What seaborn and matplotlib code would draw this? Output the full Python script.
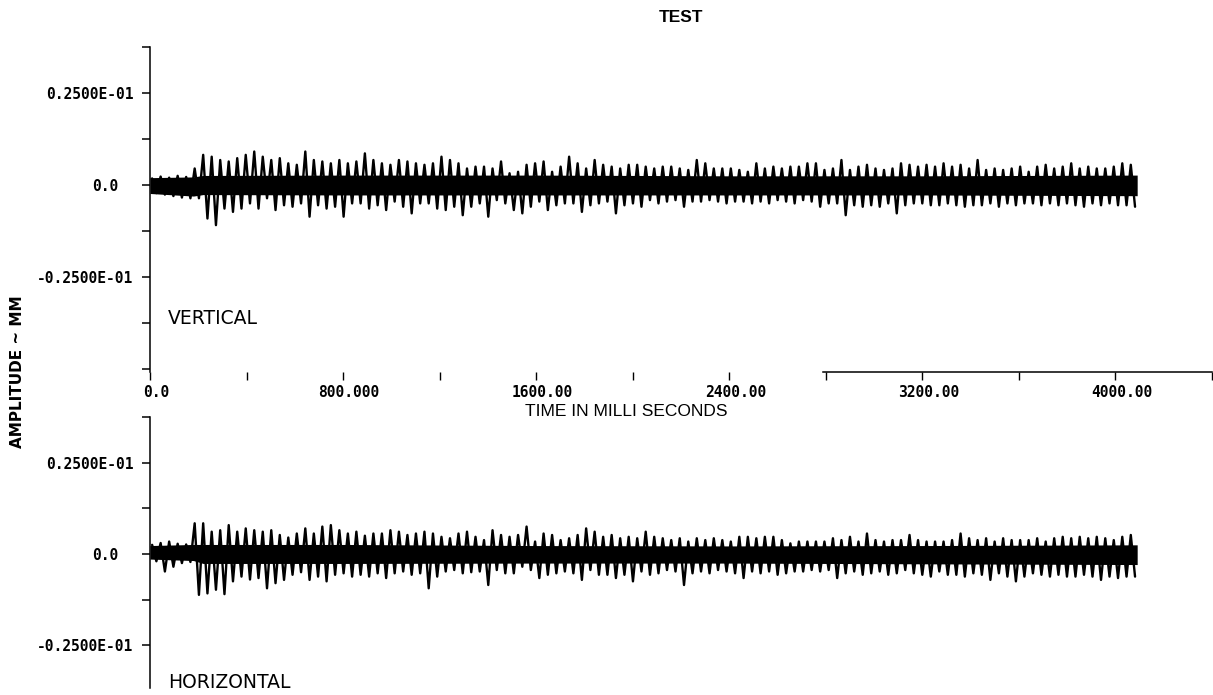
import numpy as np
import pandas as pd
import matplotlib
matplotlib.use("Agg")
import matplotlib.pyplot as plt
import matplotlib.transforms as mtransforms
from matplotlib.ticker import FixedLocator, FixedFormatter
import seaborn as sns

# ---------------- data (amplitudes in micrometres = 1e-3 mm) ----------------
record_ms = 4090.0  # length of the digitised record

# one peak and one trough per oscillation cycle
vert_peaks_um = [1.8, 2.3, 2.0, 2.5, 2.2, 4.5,
                 8.2, 7.7, 6.8, 6.4, 7.3, 8.2, 9.1, 7.7, 6.8, 7.3, 5.9, 5.5, 9.1, 6.8, 6.4,
                 5.9, 6.8, 5.9, 6.4, 8.6, 6.8, 5.9, 5.5, 6.8, 6.4, 5.9, 5.5, 5.9, 7.7, 6.8,
                 5.9, 4.5, 5.0,
                 5.0, 4.5, 6.4, 3.2, 3.6, 5.5, 5.9, 6.4, 3.6, 5.0, 7.7, 5.9, 4.5, 6.8, 5.5,
                 5.0, 4.5, 5.5, 5.5, 5.0, 4.5, 5.0, 5.0, 4.5, 4.1, 6.8, 5.9, 4.5, 4.5, 4.5,
                 4.1, 3.6, 5.9, 4.5, 5.0, 4.5, 5.0, 5.0, 5.9,
                 5.9, 4.1, 4.5, 6.8, 4.1, 5.0, 5.5, 4.5, 4.1, 4.5, 5.9, 5.5, 5.0, 5.5, 5.0,
                 5.9, 5.0, 5.5, 4.5, 6.8, 4.1, 4.5, 4.1, 4.5, 5.0, 3.6, 5.0, 5.5, 4.5,
                 5.0, 5.9, 4.5, 5.0, 4.5, 4.5, 5.0, 5.9, 5.5]
vert_troughs_um = [-2.2, -2.6, -3.0, -3.4, -3.6, -3.6,
                   -9.1, -10.9, -6.4, -7.3, -6.4, -5.0, -6.4, -3.6, -6.8, -5.5, -5.9, -5.0,
                   -8.6, -5.5, -6.4, -5.9, -8.6, -5.0, -5.0, -6.4, -5.5, -6.8, -4.5, -5.9,
                   -7.7, -5.0, -5.0, -6.4, -6.8, -5.9, -8.2, -5.9, -5.0,
                   -8.6, -4.1, -5.0, -6.8, -7.7, -5.9, -4.5, -6.8, -5.5, -5.0, -5.0, -7.3,
                   -5.5, -5.0, -4.5, -7.7, -5.5, -5.0, -5.9, -4.1, -5.0, -4.5, -4.1, -5.9,
                   -4.5, -4.5, -4.1, -4.5, -5.0, -4.5, -4.5, -5.0, -4.5, -5.0, -4.1, -4.5,
                   -5.0, -4.1, -4.5,
                   -5.9, -5.0, -5.0, -8.2, -5.5, -5.9, -5.5, -5.9, -5.0, -7.7, -5.5, -5.0,
                   -5.0, -5.5, -5.5, -5.0, -5.5, -5.9, -5.5, -5.5, -5.0, -5.9, -5.0, -5.5,
                   -5.0, -5.0, -5.5, -5.0, -5.5, -5.0, -5.5, -5.9, -5.0, -5.5, -5.0, -5.5,
                   -5.5, -5.9]

horiz_peaks_um = [2.5, 3.0, 3.4, 2.8, 2.6,
                  8.4, 8.4, 6.1, 6.5, 7.9, 6.1, 7.0, 6.5, 6.1, 6.5, 5.2, 4.5, 5.6, 7.0, 5.6,
                  7.5, 7.9, 6.5, 5.6, 6.1, 5.0, 5.6, 5.6, 6.5, 6.1, 5.2, 5.6, 6.1, 5.6, 4.7,
                  4.3, 5.6, 6.1, 4.7,
                  3.8, 6.5, 5.2, 4.7, 5.2, 7.5, 3.4, 5.6, 5.2, 3.8, 4.3, 5.2, 7.0, 6.1, 4.7,
                  5.2, 4.3, 4.7, 4.3, 6.1, 4.7, 4.3, 3.8, 4.3, 3.4, 4.3, 3.8, 4.3, 3.8, 3.4,
                  4.7, 4.7, 4.3, 4.7, 4.7, 3.8, 2.9, 3.4, 3.4,
                  3.4, 3.4, 4.3, 3.8, 4.7, 3.4, 5.6, 3.8, 3.4, 3.8, 3.8, 5.2, 3.8, 3.4, 3.4,
                  3.4, 3.8, 5.6, 4.3, 3.8, 4.3, 3.4, 4.3, 3.8, 3.8, 3.8, 4.3, 3.4, 4.3, 4.7,
                  4.3, 4.7, 4.3, 4.7, 4.3, 3.8, 4.7, 5.2]
horiz_troughs_um = [-2.0, -4.8, -3.5, -2.5, -2.2,
                    -11.2, -10.8, -9.8, -11.0, -7.5, -6.2, -7.0, -6.6, -9.4, -8.0, -7.1,
                    -5.7, -5.0, -7.1, -6.2, -7.5, -5.7, -5.3, -6.2, -5.7, -6.2, -5.3, -6.6,
                    -5.3, -4.8, -5.7, -5.3, -9.4, -6.2, -4.8, -4.4, -5.3, -5.0, -4.8,
                    -8.5, -4.4, -5.3, -5.3, -3.5, -4.4, -6.6, -5.7, -5.3, -4.8, -5.3, -7.1,
                    -4.4, -5.7, -5.7, -6.6, -5.7, -7.5, -4.8, -5.7, -5.3, -4.4, -4.8, -8.5,
                    -5.3, -4.8, -5.3, -4.4, -4.8, -5.3, -6.6, -4.8, -5.3, -4.8, -5.7, -5.3,
                    -4.8, -4.8, -4.4,
                    -4.8, -4.4, -6.6, -5.3, -4.8, -5.7, -5.3, -4.8, -5.7, -5.3, -4.4, -5.3,
                    -5.7, -6.2, -4.8, -5.7, -5.7, -6.2, -5.3, -5.7, -7.1, -5.3, -6.2, -7.5,
                    -6.2, -5.3, -5.7, -6.2, -5.7, -6.2, -6.2, -5.7, -6.2, -7.1, -6.2, -6.6,
                    -6.2, -6.2]

# envelope of the dense high-frequency "solid" band around zero
band_t_ms = [0, 180, 220, 800, 1600, 2400, 3200, 4090]
vert_band_hi_um = [2.0, 2.2, 2.6, 2.7, 2.7, 2.5, 2.5, 2.7]
vert_band_lo_um = [-2.3, -3.0, -2.6, -2.7, -2.7, -2.7, -2.7, -2.9]
horiz_band_hi_um = [2.3, 2.6, 2.6, 2.6, 2.3, 2.2, 2.3, 2.5]
horiz_band_lo_um = [-1.4, -1.8, -2.6, -2.6, -2.5, -2.5, -2.7, -2.9]

x_major = [0, 800, 1600, 2400, 3200, 4000]
x_major_labels = ["0.0", "800.000", "1600.00", "2400.00", "3200.00", "4000.00"]
x_minor = [400, 1200, 2000, 2800, 3600, 4400]
y_label_map = {0.025: "0.2500E-01", 0.0: "0.0", -0.025: "-0.2500E-01"}

UM_TO_MM = 1e-3


def trace_frame(peaks, troughs):
    vals = np.empty(2 * len(peaks))
    vals[0::2] = peaks
    vals[1::2] = troughs
    n = len(vals)
    t = record_ms * (np.arange(n) + 0.5) / n
    return pd.DataFrame({"t": t, "amp": vals * UM_TO_MM})


vert_df = trace_frame(vert_peaks_um, vert_troughs_um)
horiz_df = trace_frame(horiz_peaks_um, horiz_troughs_um)

# ---------------- figure ----------------
sns.set_style("white")
plt.rcParams["font.family"] = ["DejaVu Sans"]
plt.rcParams["text.color"] = "black"
plt.rcParams["xtick.color"] = "black"
plt.rcParams["ytick.color"] = "black"
plt.rcParams["axes.labelcolor"] = "black"

W, H = 1213, 695
fig = plt.figure(figsize=(W / 100, H / 100), dpi=100)
ax1 = fig.add_axes([150 / W, 1 - 372 / H, (1212 - 150) / W, (372 - 47) / H])
ax2 = fig.add_axes([150 / W, 1 - 688 / H, (1212 - 150) / W, (688 - 417) / H])

mono = dict(family="DejaVu Sans Mono", weight="bold", size=10.5)

for ax, df, bt, bh, bl, yl in [
    (ax1, vert_df, band_t_ms, vert_band_hi_um, vert_band_lo_um, (-0.0508, 0.0375)),
    (ax2, horiz_df, band_t_ms, horiz_band_hi_um, horiz_band_lo_um, (-0.0367, 0.0375)),
]:
    ax.fill_between(bt, np.array(bl) * UM_TO_MM, np.array(bh) * UM_TO_MM,
                    color="black", lw=0)
    sns.lineplot(data=df, x="t", y="amp", ax=ax, color="black", linewidth=1.7,
                 estimator=None, sort=False)
    ax.set_xlim(0, 4400)
    ax.set_ylim(*yl)
    ax.set_xlabel("")
    ax.set_ylabel("")
    ax.patch.set_alpha(0)
    for s in ["top", "right"]:
        ax.spines[s].set_visible(False)
    ax.spines["left"].set_linewidth(1.1)
    ax.spines["left"].set_color("black")
    yt = [v for v in np.round(np.arange(-0.05, 0.0376, 0.0125), 4) if yl[0] - 1e-6 <= v <= yl[1] + 1e-6]
    ax.yaxis.set_major_locator(FixedLocator(yt))
    ax.yaxis.set_major_formatter(FixedFormatter([y_label_map.get(round(v, 4), "") for v in yt]))
    ax.tick_params(axis="y", direction="out", length=6, width=1.1, color="black",
                   labelcolor="black", pad=6, left=True, labelsize=10.5)
    for lab in ax.get_yticklabels():
        lab.set_fontproperties(matplotlib.font_manager.FontProperties(**mono))
        if lab.get_text() == "0.0":
            lab.set_transform(lab.get_transform() +
                              mtransforms.ScaledTranslation(-15 / 100, 0, fig.dpi_scale_trans))

# top panel x axis
ax1.spines["bottom"].set_bounds(2790, 4400)
ax1.spines["bottom"].set_linewidth(1.1)
ax1.spines["bottom"].set_color("black")
ax1.xaxis.set_major_locator(FixedLocator(x_major))
ax1.xaxis.set_major_formatter(FixedFormatter(x_major_labels))
ax1.xaxis.set_minor_locator(FixedLocator(x_minor))
ax1.tick_params(axis="x", which="both", direction="out", length=6, width=1.0,
                color="black", labelcolor="black", bottom=True, pad=3)
for lab in ax1.get_xticklabels():
    lab.set_fontproperties(matplotlib.font_manager.FontProperties(**mono))
    lab.set_transform(lab.get_transform() +
                      mtransforms.ScaledTranslation(6 / 100, 0, fig.dpi_scale_trans))

# bottom panel: no x axis
ax2.spines["bottom"].set_visible(False)
ax2.set_xticks([])

# labels
ax1.text(75, -0.0364, "VERTICAL", ha="left", va="center", fontsize=13.5,
         family="DejaVu Sans", color="black")
ax2.text(75, -0.0353, "HORIZONTAL", ha="left", va="center", fontsize=13.5,
         family="DejaVu Sans", color="black")
fig.text(626 / W, 1 - 411 / H, "TIME IN MILLI SECONDS", ha="center", va="center",
         fontsize=12.5, family=["Liberation Sans", "DejaVu Sans"], color="black")
fig.text(681 / W, 1 - 17 / H, "TEST", ha="center", va="center", fontsize=12.5,
         weight="bold", family=["Liberation Sans", "DejaVu Sans"], color="black")
fig.text(18 / W, 1 - 372 / H, "AMPLITUDE ~ MM", ha="center", va="center",
         rotation=90, fontsize=11, weight="bold", family="DejaVu Sans", color="black")

fig.savefig("out.png", dpi=100, facecolor="white")
